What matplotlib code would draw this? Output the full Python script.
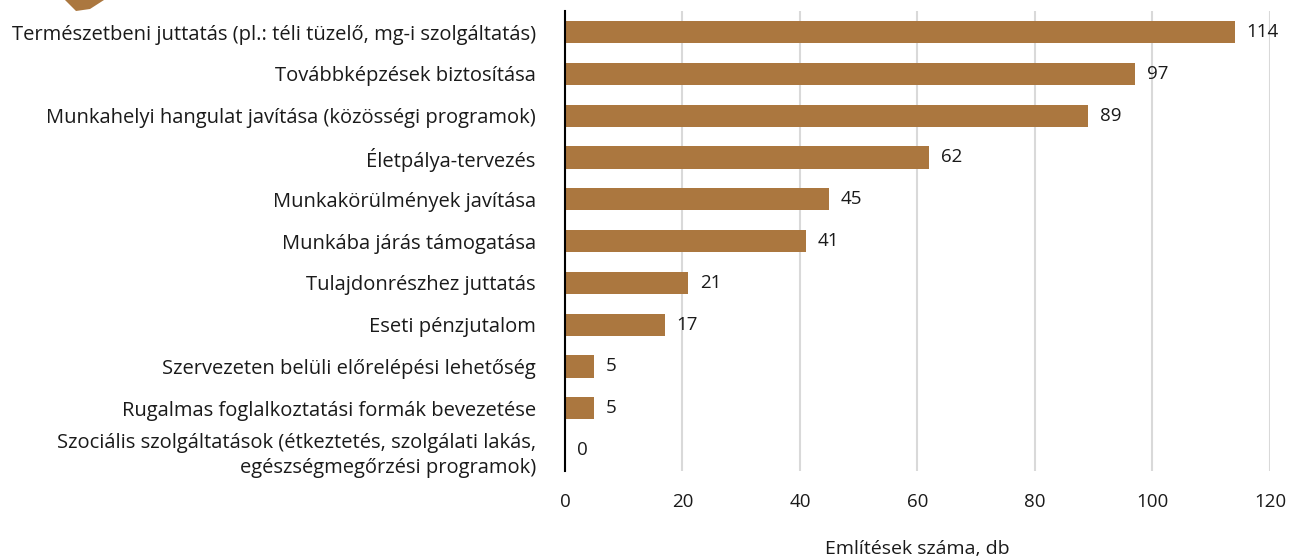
import matplotlib.pyplot as plt
from matplotlib.patches import Polygon

# data (top to bottom)
categories = [
    'Természetbeni juttatás (pl.: téli tüzelő, mg-i szolgáltatás)',
    'Továbbképzések biztosítása',
    'Munkahelyi hangulat javítása (közösségi programok)',
    'Életpálya-tervezés',
    'Munkakörülmények javítása',
    'Munkába járás támogatása',
    'Tulajdonrészhez juttatás',
    'Eseti pénzjutalom',
    'Szervezeten belüli előrelépési lehetőség',
    'Rugalmas foglalkoztatási formák bevezetése',
    'Szociális szolgáltatások (étkeztetés, szolgálati lakás,\negészségmegőrzési programok)',
]
values = [114, 97, 89, 62, 45, 41, 21, 17, 5, 5, 0]
xticks = [0, 20, 40, 60, 80, 100, 120]

plt.rcParams['font.family'] = ['Open Sans', 'DejaVu Sans']
bar_color = '#AB773F'
txt = '#1a1a1a'

fig = plt.figure(figsize=(13, 5.58), dpi=100)
ax = fig.add_axes([0.4346, 0.156, 0.5423, 0.824])

y = list(range(len(categories)))
ax.barh(y, values, height=0.53, color=bar_color, zorder=3)
for yi, v in zip(y, values):
    ax.text(v + 2.0, yi, str(v), va='center', ha='left', fontsize=13.5, color=txt)

ax.set_ylim(len(categories) - 0.5, -0.5)
ax.set_xlim(0, 120)
ax.set_yticks(y)
ax.set_yticklabels(categories, fontsize=14.5, color=txt, linespacing=1.35)
ax.set_xticks(xticks)
ax.set_xticklabels([str(t) for t in xticks], fontsize=13.5, color=txt)
ax.tick_params(axis='both', length=0)
ax.tick_params(axis='x', pad=16)
ax.tick_params(axis='y', pad=21)

ax.grid(axis='x', color='#D9D9D9', linewidth=1.5, zorder=0)
for s in ['top', 'right', 'bottom']:
    ax.spines[s].set_visible(False)
ax.spines['left'].set_color('black')
ax.spines['left'].set_linewidth(1.5)
ax.spines['left'].set_zorder(4)

ax.set_xlabel('Említések száma, db', fontsize=14, color=txt, labelpad=21)

# cropped arrow fragment in the top-left corner
fig.patches.append(Polygon([(65 / 1300, 1.0), (76 / 1300, 1 - 11 / 558),
                            (90 / 1300, 1 - 9 / 558), (104 / 1300, 1.0)],
                           closed=True, transform=fig.transFigure,
                           facecolor=bar_color, edgecolor='none'))

fig.savefig('out.png', dpi=100)
